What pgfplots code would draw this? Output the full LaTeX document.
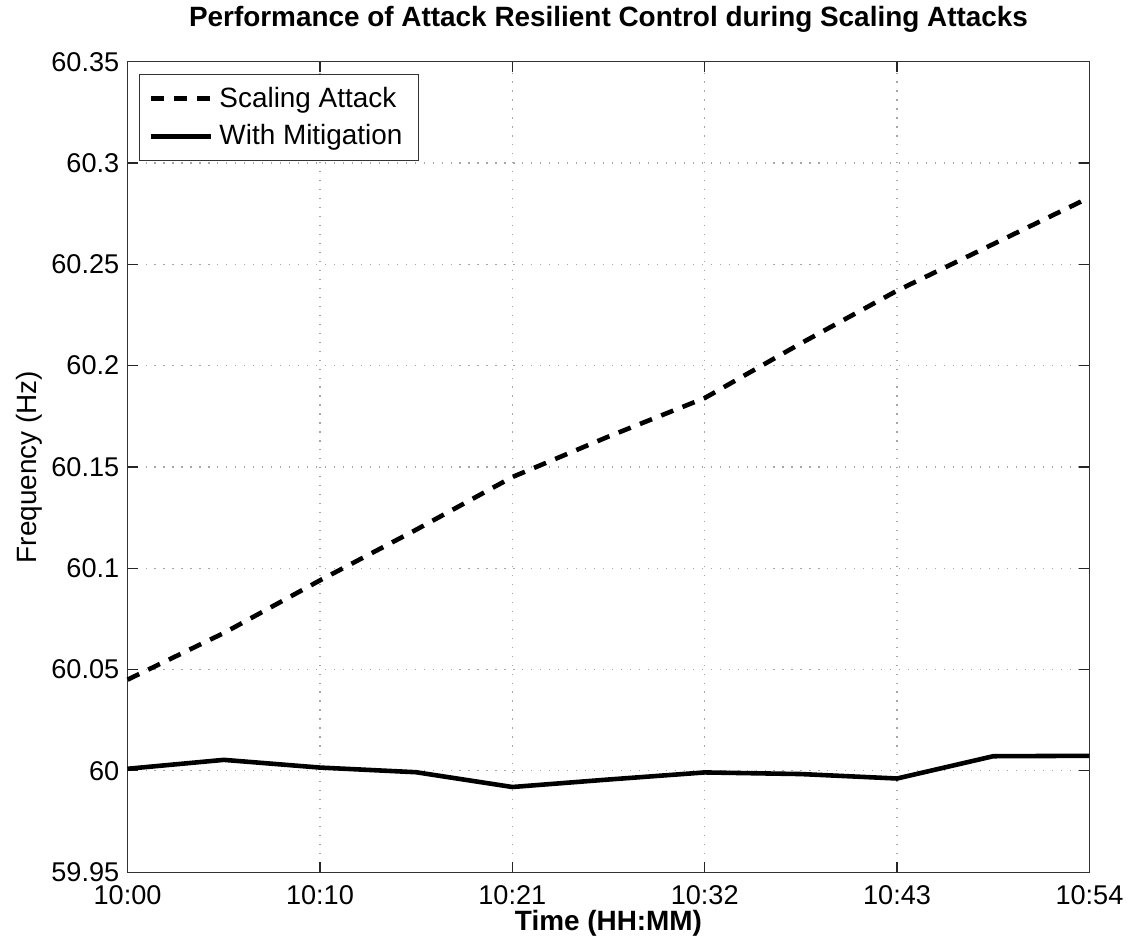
\documentclass[border=0pt]{standalone}
\usepackage{fontspec}
\setmainfont{Liberation Sans}
\usepackage{pgfplots}
\pgfplotsset{compat=1.18}
\newcommand{\fs}{\fontsize{14}{16.8}\selectfont}
\newcommand{\ft}{\fontsize{13.6}{16.3}\selectfont}
\begin{document}
\begin{tikzpicture}
\begin{axis}[
  scale only axis,
  width=482.5pt, height=406.5pt,
  xmin=0, xmax=54, ymin=59.95, ymax=60.35,
  xtick={0,10.8,21.6,32.4,43.2,54},
  xticklabels={10:00,10:10,10:21,10:32,10:43,10:54},
  ytick={59.95,60,60.05,60.1,60.15,60.2,60.25,60.3,60.35},
  yticklabels={59.95,60,60.05,60.1,60.15,60.2,60.25,60.3,60.35},
  tick align=inside,
  xtick pos=both, ytick pos=both,
  major tick length=5pt,
  tick style={black!85, line width=0.6pt},
  axis line style={black!80, line width=0.6pt},
  grid=major,
  major grid style={gray!70, line width=0.6pt, dash pattern=on 0.6pt off 3.9pt},
  xticklabel style={font=\ft, anchor=base, yshift=-16.5pt},
  yticklabel style={font=\ft, anchor=east, inner sep=0pt, xshift=-4pt},
  title={\bfseries Performance of Attack Resilient Control during Scaling Attacks},
  title style={font=\fs, at={(axis description cs:0.5,1.0283)}, anchor=base},
  xlabel={\bfseries Time (HH:MM)},
  xlabel style={font=\fs, at={(axis description cs:0.5,-0.0726)}, anchor=base},
  ylabel={Frequency (Hz)},
  ylabel style={font=\fs, at={(axis description cs:-0.0943,0.5)}, anchor=base, rotate=0},
  clip=false,
  legend cell align=left,
  legend image code/.code={\draw[#1] (0pt,0pt) -- (30pt,0pt);},
  legend style={font=\fs, at={(axis description cs:0.0114,0.985)}, anchor=north west,
    draw=black!80, line width=0.6pt, inner xsep=5pt, inner ysep=4.2pt, row sep=3.3pt,
    nodes={inner xsep=3pt}},
]
\addplot[black, line width=2.3pt, line cap=butt, dash pattern=on 6.5pt off 5pt] coordinates {
(0,60.045) (5.4,60.068) (10.8,60.094) (16.2,60.119) (21.6,60.145) (27.0,60.165)
(32.4,60.184) (37.8,60.211) (43.2,60.237) (48.6,60.260) (54,60.283)};
\addlegendentry{Scaling Attack}
\addplot[black, line width=2.3pt] coordinates {
(0,60.001) (5.4,60.0054) (10.8,60.0016) (16.2,59.9993) (21.6,59.992) (27.0,59.9957)
(32.4,59.9992) (37.8,59.9984) (43.2,59.9962) (48.6,60.0072) (54,60.0074)};
\addlegendentry{With Mitigation}
\path ([xshift=-64pt,yshift=-33pt]rel axis cs:0,0) rectangle ([xshift=18.5pt,yshift=25.5pt]rel axis cs:1,1);
\end{axis}
\end{tikzpicture}
\end{document}
